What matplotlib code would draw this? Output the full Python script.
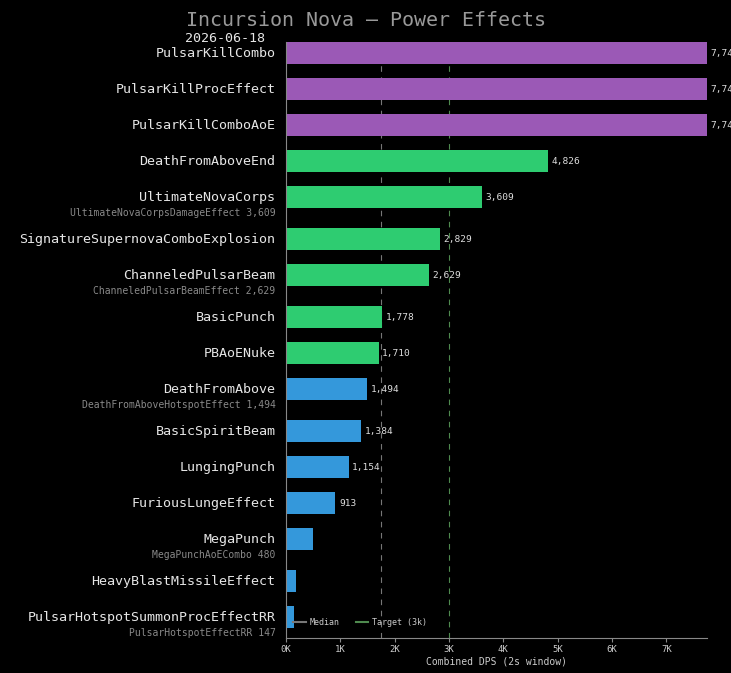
import matplotlib
matplotlib.use('Agg')
import matplotlib.pyplot as plt
from matplotlib.lines import Line2D

# data
names = ['PulsarKillCombo', 'PulsarKillProcEffect', 'PulsarKillComboAoE', 'DeathFromAboveEnd',
         'UltimateNovaCorps', 'SignatureSupernovaComboExplosion', 'ChanneledPulsarBeam',
         'BasicPunch', 'PBAoENuke', 'DeathFromAbove', 'BasicSpiritBeam', 'LungingPunch',
         'FuriousLungeEffect', 'MegaPunch', 'HeavyBlastMissileEffect', 'PulsarHotspotSummonProcEffectRR']
values = [7745, 7745, 7745, 4826, 3609, 2829, 2629, 1778, 1710, 1494, 1384, 1154, 913, 497, 185, 147]
sub_names = ['', '', '', '', 'UltimateNovaCorpsDamageEffect', '', 'ChanneledPulsarBeamEffect',
             '', '', 'DeathFromAboveHotspotEffect', '', '', '', 'MegaPunchAoECombo', '',
             'PulsarHotspotEffectRR']
sub_values = [0, 0, 0, 0, 3609, 0, 2629, 0, 0, 1494, 0, 0, 0, 480, 0, 147]
tiers = ['top', 'top', 'top', 'mid', 'mid', 'mid', 'mid', 'mid', 'mid',
         'low', 'low', 'low', 'low', 'low', 'low', 'low']
median_val = 1744
target_val = 3000

tier_colors = {'top': '#9b59b6', 'mid': '#2ecc71', 'low': '#3498db'}
FONT = 'DejaVu Sans Mono'

# row positions: extra gap after rows that carry a sub-label
ypos = []
y = 0.0
for s in sub_names:
    ypos.append(y)
    y += 1.0 + (1 / 6 if s else 0)

fig = plt.figure(figsize=(7.31, 6.73), dpi=100, facecolor='black')
ax = fig.add_axes([0.391, 0.052, 0.576, 0.8856])
ax.set_facecolor('black')

ax.barh(ypos, values, height=0.61, color=[tier_colors[t] for t in tiers], zorder=2)
ax.axvline(median_val, color='#777777', linestyle=(0, (5, 5)), linewidth=0.8, zorder=1)
ax.axvline(target_val, color='#4f8a4f', linestyle=(0, (5, 5)), linewidth=0.8, zorder=1)

ax.set_ylim(ypos[-1] + 0.583, -0.306)
ax.set_xlim(0, max(values))
ax.set_yticks([])
ax.set_xticks(range(0, 8000, 1000))
ax.set_xticklabels([f'{v // 1000}K' for v in range(0, 8000, 1000)], fontsize=6.5,
                   family=FONT, color='#cccccc')
ax.tick_params(axis='x', colors='#888888', length=3, pad=2, labelcolor='#cccccc')
for side in ['top', 'right']:
    ax.spines[side].set_visible(False)
for side in ['left', 'bottom']:
    ax.spines[side].set_color('#888888')
ax.set_xlabel('Combined DPS (2s window)', fontsize=7, family=FONT, color='#cccccc', labelpad=2)

for yy, n, v, sn, sv in zip(ypos, names, values, sub_names, sub_values):
    ax.annotate(n, xy=(0, yy), xycoords=('axes fraction', 'data'), xytext=(-7.5, 0),
                textcoords='offset points', ha='right', va='center',
                fontsize=9.6, family=FONT, color='#e6e6e6')
    if sn:
        ax.annotate(f'{sn} {sv:,}', xy=(0, yy + 0.45), xycoords=('axes fraction', 'data'),
                    xytext=(-7.5, 0), textcoords='offset points', ha='right', va='center',
                    fontsize=7, family=FONT, color='#8a8a8a')
    if v >= 600:
        ax.annotate(f'{v:,}', xy=(v, yy), xytext=(2.5, 0), textcoords='offset points',
                    ha='left', va='center', fontsize=6.8, family=FONT, color='#dddddd',
                    annotation_clip=False)

handles = [Line2D([], [], color='#777777', linewidth=1.5),
           Line2D([], [], color='#4f8a4f', linewidth=1.5)]
leg = ax.legend(handles, ['Median', 'Target (3k)'], loc='lower left',
                bbox_to_anchor=(0.0, 0.006), ncol=2, frameon=False,
                prop={'family': FONT, 'size': 6}, handlelength=1.5, columnspacing=2.0,
                handletextpad=0.4)
for t in leg.get_texts():
    t.set_color('#cccccc')

fig.text(0.5, 0.970, 'Incursion Nova — Power Effects', ha='center', va='center',
         fontsize=14.4, family=FONT, color='#999999')
fig.text(0.253, 0.943, '2026-06-18', ha='left', va='center', fontsize=9.6,
         family=FONT, color='#e6e6e6')

fig.savefig('out.png', dpi=100, facecolor='black')
